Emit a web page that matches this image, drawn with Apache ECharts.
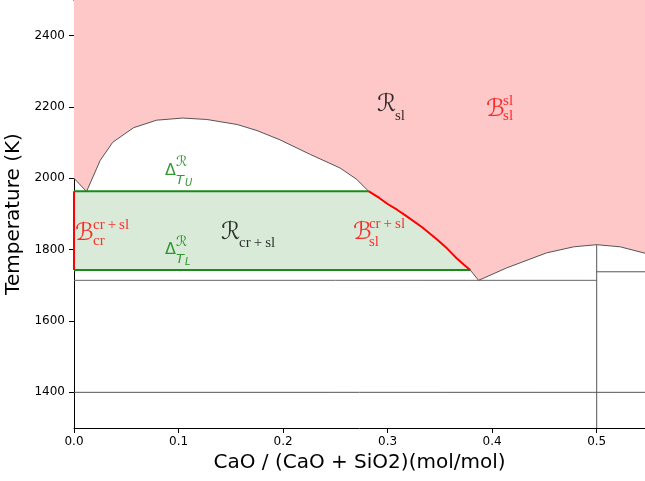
<!DOCTYPE html>
<html>
<head>
<meta charset="utf-8">
<script src="https://cdn.jsdelivr.net/npm/echarts@6/dist/echarts.min.js"></script>
<style>html,body{margin:0;padding:0;background:#fff}#c{width:645px;height:481px}</style>
</head>
<body>
<div id="c"></div>
<script>
// ---- data ----
const xTicks = [0, 0.1, 0.2, 0.3, 0.4, 0.5];
const yTicks = [1400, 1600, 1800, 2000, 2200, 2400];
const xMin = 0, xMax = 0.5462, yMin = 1300, yMax = 2500;

// liquidus, left part (gray)
const liqLeftX = [0, 0.012, 0.025, 0.037, 0.057, 0.079, 0.104, 0.127, 0.156, 0.175, 0.197, 0.226, 0.2545, 0.2705, 0.2817];
const liqLeftT = [2000, 1963, 2050, 2101, 2142, 2163, 2169, 2165, 2151, 2134, 2108, 2067, 2029, 1997, 1964];
// boundary B_sl^{cr+sl} (red)
const bndSlX = [0.2817, 0.292, 0.300, 0.309, 0.318, 0.333, 0.347, 0.357, 0.366, 0.373, 0.379];
const bndSlT = [1964, 1945, 1928, 1912, 1894, 1863, 1829, 1803, 1776, 1758, 1743];
// liquidus, right part (gray)
const liqRightX = [0.379, 0.387, 0.414, 0.452, 0.478, 0.500, 0.5225, 0.5462];
const liqRightT = [1743, 1714, 1749, 1791, 1808, 1814, 1808, 1790];

const tUpper = 1964;     // Delta T_U
const tLower = 1743;     // Delta T_L
const tEutectic = 1714;
const tLow = 1400;
const compoundX = 0.5;
const compoundTopT = 1814;
const compoundSideT = 1738;

// annotation anchors [x, T]
const annRsl = [0.2908, 2186];
const annBslsl = [0.3951, 2172];
const annDU = [0.0870, 2005];
const annDL = [0.0870, 1783];
const annRcrsl = [0.1416, 1827];
const annBcr = [0.0019, 1825];
const annBsl = [0.2678, 1828];

// ---- build ----
const zip = (xs, ys) => xs.map((x, i) => [x, ys[i]]);
const liqLeft = zip(liqLeftX, liqLeftT);
const bndSl = zip(bndSlX, bndSlT);
const liqRight = zip(liqRightX, liqRightT);
const liquidus = liqLeft.concat(bndSl.slice(1), liqRight.slice(1));

const pinkPoly = liquidus.concat([[xMax, yMax], [xMin, yMax]]);
const greenPoly = [[0, tUpper]].concat(bndSl, [[0, tLower]]);

function polySeries(pts, color) {
  return {
    type: 'custom', coordinateSystem: 'cartesian2d', silent: true, z: 1,
    data: [pts[0]],
    renderItem: (params, api) => ({
      type: 'polygon',
      shape: { points: pts.map(p => api.coord(p)) },
      style: { fill: color }
    })
  };
}
function lineSeries(pts, color, width, z) {
  return {
    type: 'line', data: pts, showSymbol: false, silent: true, z: z,
    lineStyle: { color: color, width: width }, animation: false
  };
}

const SCRIPT = '"DejaVu Serif", "DejaVu Sans", serif';
const ROMAN = '"Liberation Serif", serif';
const SANS = '"DejaVu Sans", sans-serif';
const CRSL = 'cr\u2009+\u2009sl';

// piece: [text, family, size, italic, dx, baselineDy]
function annItems(anchor, color, pieces) {
  return pieces.map(p => ({
    value: anchor,
    label: {
      show: true, formatter: p[0], position: 'inside', align: 'left', verticalAlign: 'middle',
      fontFamily: p[1], fontSize: p[2], fontStyle: p[3] ? 'italic' : 'normal',
      color: color, offset: [p[4], p[5] - 0.34 * p[2]]
    }
  }));
}
const annData = [].concat(
  annItems(annRsl, '#000', [['ℛ', SCRIPT, 24, false, -1, 1], ['sl', ROMAN, 15, false, 17, 9]]),
  annItems(annBslsl, '#ff0000', [['ℬ', SCRIPT, 24, false, -1, 1], ['sl', ROMAN, 15, false, 16, -11], ['sl', ROMAN, 15, false, 16, 4]]),
  annItems(annDU, '#008000', [['Δ', SANS, 16, false, 0, 0], ['ℛ', SCRIPT, 14, false, 11, -9], ['T', SANS, 13, true, 11, 8], ['U', SANS, 10, true, 20, 10]]),
  annItems(annDL, '#008000', [['Δ', SANS, 16, false, 0, 0], ['ℛ', SCRIPT, 14, false, 11, -9], ['T', SANS, 13, true, 11, 8], ['L', SANS, 10, true, 20, 10]]),
  annItems(annRcrsl, '#000', [['ℛ', SCRIPT, 24, false, -1, 1], [CRSL, ROMAN, 15, false, 17, 8]]),
  annItems(annBcr, '#ff0000', [['ℬ', SCRIPT, 24, false, -1, 1], [CRSL, ROMAN, 15, false, 17, -11], ['cr', ROMAN, 15, false, 17, 5]]),
  annItems(annBsl, '#ff0000', [['ℬ', SCRIPT, 24, false, -1, 1], [CRSL, ROMAN, 15, false, 15, -11], ['sl', ROMAN, 15, false, 15, 7]])
);

const chart = echarts.init(document.getElementById('c'), null, { renderer: 'canvas' });
chart.setOption({
  animation: false,
  grid: { left: 74, right: 0, top: 0, bottom: 53, containLabel: false, outerBoundsMode: 'none' },
  xAxis: [{
    type: 'value', min: xMin, max: xMax,
    name: 'CaO / (CaO + SiO2)(mol/mol)', nameLocation: 'middle', nameGap: 25,
    nameTextStyle: { fontFamily: SANS, fontSize: 20, color: '#000' },
    axisLine: { show: true, lineStyle: { color: '#000', width: 1 } },
    axisTick: { show: true, length: 5, lineStyle: { color: '#000' }, customValues: xTicks },
    axisLabel: { customValues: xTicks, formatter: v => v.toFixed(1), fontFamily: SANS, fontSize: 12, color: '#000', margin: 8 },
    splitLine: { show: false }
  }, {
    type: 'value', position: 'top', min: xMin, max: xMax,
    axisLine: { show: true, lineStyle: { color: '#000', width: 1 } },
    axisTick: { show: false }, axisLabel: { show: false }, splitLine: { show: false }
  }],
  yAxis: {
    type: 'value', min: yMin, max: yMax,
    name: 'Temperature (K)', nameLocation: 'middle', nameGap: 45,
    nameTextStyle: { fontFamily: SANS, fontSize: 20, color: '#000' },
    axisLine: { show: true, lineStyle: { color: '#000', width: 1 } },
    axisTick: { show: true, length: 5, lineStyle: { color: '#000' }, customValues: yTicks },
    axisLabel: { customValues: yTicks, formatter: v => String(v), fontFamily: SANS, fontSize: 12, color: '#000', margin: 9 },
    splitLine: { show: false }
  },
  series: [
    polySeries(pinkPoly, '#ffc8c8'),
    polySeries(greenPoly, '#d9ebd8'),
    lineSeries([[0, tEutectic], [compoundX, tEutectic]], '#666', 1, 2),
    lineSeries([[xMin, tLow], [xMax, tLow]], '#555', 1, 2),
    lineSeries([[compoundX, yMin], [compoundX, compoundTopT]], '#555', 1, 2),
    lineSeries([[compoundX, compoundSideT], [xMax, compoundSideT]], '#555', 1, 2),
    lineSeries(liquidus, '#555', 1, 3),
    lineSeries([[0, tUpper], [bndSlX[0], tUpper]], '#1a8a1a', 2, 4),
    lineSeries([[0, tLower], [bndSlX[bndSlX.length - 1], tLower]], '#1a8a1a', 2, 4),
    lineSeries([[0, tLower], [0, tUpper]], '#ff0000', 2, 5),
    lineSeries(bndSl, '#ff0000', 2, 5),
    {
      type: 'scatter', data: annData, symbolSize: 1, silent: true, z: 6,
      itemStyle: { color: 'rgba(0,0,0,0)' }
    }
  ]
});
</script>
</body>
</html>
